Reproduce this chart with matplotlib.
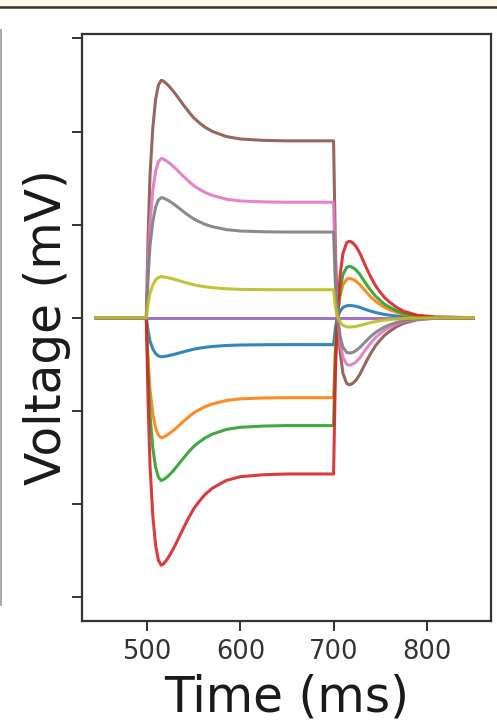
import matplotlib
matplotlib.use("Agg")
import matplotlib.pyplot as plt
from matplotlib.patches import Rectangle
from matplotlib.lines import Line2D

# sample times (ms)
t = [445, 499, 501, 503, 506, 509, 512, 515,
     517, 520, 523, 527, 531, 535, 540, 545, 550, 555, 562, 570, 585, 600, 625, 650,
     700, 702, 704, 707, 710,
     714, 716, 718, 721, 724, 728, 732, 736, 740, 745, 750, 755, 760, 767, 775, 790, 810, 850]

# voltage traces (mV)
v_blue = [0, 0, -1.47, -2.52, -3.36, -3.86, -4.12, -4.2,
          -4.19, -4.14, -4.08, -3.99, -3.89, -3.78, -3.64, -3.51, -3.39, -3.30, -3.19, -3.10, -2.99, -2.94, -2.91, -2.9,
          -2.9, -1.05, -0.05, 0.70, 1.09,
          1.27, 1.30, 1.3, 1.27, 1.22, 1.11, 0.96, 0.82, 0.69, 0.55, 0.44, 0.34, 0.27, 0.18, 0.11, 0.04, 0.01, 0]
v_orange = [0, 0, -4.52, -7.74, -10.32, -11.87, -12.64, -12.9,
            -12.86, -12.71, -12.51, -12.21, -11.87, -11.50, -11.05, -10.62, -10.23, -9.93, -9.57, -9.27, -8.90, -8.73, -8.63, -8.6,
            -8.6, -3.03, 0.0, 2.33, 3.53,
            4.12, 4.19, 4.2, 4.10, 3.93, 3.57, 3.11, 2.65, 2.23, 1.76, 1.41, 1.09, 0.86, 0.59, 0.36, 0.13, 0.03, 0]
v_green = [0, 0, -6.13, -10.5, -14.0, -16.1, -17.15, -17.5,
           -17.44, -17.23, -16.97, -16.56, -16.08, -15.58, -14.96, -14.37, -13.84, -13.43, -12.93, -12.51, -12.01, -11.78, -11.65, -11.6,
           -11.6, -4.12, -0.07, 3.03, 4.61,
           5.39, 5.49, 5.5, 5.36, 5.14, 4.68, 4.07, 3.47, 2.92, 2.31, 1.84, 1.43, 1.13, 0.77, 0.47, 0.17, 0.04, 0]
v_red = [0, 0, -9.31, -15.96, -21.28, -24.47, -26.07, -26.6,
         -26.50, -26.16, -25.72, -25.03, -24.25, -23.42, -22.39, -21.41, -20.52, -19.84, -19.01, -18.32, -17.49, -17.09, -16.88, -16.8,
         -16.8, -5.92, -0.01, 4.56, 6.88,
         8.04, 8.18, 8.2, 8.0, 7.67, 6.97, 6.07, 5.17, 4.35, 3.44, 2.75, 2.13, 1.68, 1.15, 0.70, 0.25, 0.07, 0]
v_purple = [0] * 47
v_brown = [0, 0, 8.93, 15.3, 20.4, 23.46, 24.99, 25.5,
           25.44, 25.21, 24.92, 24.46, 23.94, 23.39, 22.71, 22.06, 21.47, 21.02, 20.46, 20.01, 19.46, 19.20, 19.05, 19.0,
           19.0, 7.11, 0.94, -3.66, -5.96,
           -7.06, -7.19, -7.2, -7.02, -6.73, -6.12, -5.33, -4.54, -3.82, -3.02, -2.41, -1.87, -1.48, -1.01, -0.61, -0.22, -0.06, 0]
v_pink = [0, 0, 5.99, 10.26, 13.68, 15.73, 16.76, 17.1,
          17.05, 16.89, 16.68, 16.35, 15.97, 15.57, 15.08, 14.61, 14.19, 13.86, 13.46, 13.13, 12.73, 12.54, 12.44, 12.4,
          12.4, 4.56, 0.43, -2.68, -4.24,
          -5.0, -5.09, -5.1, -4.97, -4.77, -4.34, -3.77, -3.21, -2.70, -2.14, -1.71, -1.33, -1.05, -0.71, -0.43, -0.15, -0.04, 0]
v_gray = [0, 0, 4.52, 7.74, 10.32, 11.87, 12.64, 12.9,
          12.86, 12.73, 12.57, 12.31, 12.01, 11.70, 11.31, 10.94, 10.61, 10.35, 10.03, 9.77, 9.46, 9.31, 9.23, 9.2,
          9.2, 3.38, 0.31, -2.0, -3.16,
          -3.72, -3.79, -3.8, -3.71, -3.55, -3.23, -2.81, -2.39, -2.01, -1.60, -1.27, -0.99, -0.78, -0.53, -0.32, -0.11, -0.03, 0]
v_olive = [0, 0, 1.54, 2.64, 3.52, 4.05, 4.31, 4.4,
           4.39, 4.34, 4.27, 4.18, 4.06, 3.95, 3.80, 3.66, 3.53, 3.43, 3.32, 3.22, 3.10, 3.04, 3.01, 3.0,
           3.0, 1.15, 0.21, -0.48, -0.82,
           -0.98, -1.0, -1.0, -0.98, -0.94, -0.85, -0.74, -0.63, -0.53, -0.42, -0.34, -0.26, -0.21, -0.14, -0.09, -0.03, -0.01, 0]

traces = [v_blue, v_orange, v_green, v_red, v_purple, v_brown, v_pink, v_gray, v_olive]
yticks = [-30, -20, -10, 0, 10, 20, 30]
xticks = [500, 600, 700, 800]

fig = plt.figure(figsize=(4.97, 7.2), dpi=100)
ax = fig.add_axes([0.165, 0.1375, 0.823, 0.8155])

for v in traces:
    ax.plot(t, v, lw=2.2, alpha=0.9)

ax.set_xlim(430, 869)
ax.set_ylim(-32.6, 30.5)
ax.set_xticks(xticks)
ax.set_yticks(yticks)
ax.set_yticklabels([])
ax.tick_params(length=7, width=1.4, labelsize=18.5, pad=6, colors="#333333")
for s in ax.spines.values():
    s.set_linewidth(1.6)
    s.set_color("#333333")

ax.set_xlabel("Time (ms)", fontsize=35, labelpad=6, color="#1a1a1a")
ax.set_ylabel("Voltage (mV)", fontsize=35, labelpad=-5, color="#1a1a1a")

# screenshot edges
fig.patches.append(Rectangle((0, 1 - 6 / 720), 1, 6 / 720, transform=fig.transFigure,
                             color="#fdf7ec", zorder=0))
fig.lines.append(Line2D([0, 1], [1 - 7 / 720, 1 - 7 / 720], transform=fig.transFigure,
                        color="#333333", lw=1.8))
fig.lines.append(Line2D([1 / 497, 1 / 497], [1 - 30 / 720, 1 - 605 / 720],
                        transform=fig.transFigure, color="#999999", lw=1.2))

fig.savefig("out.png", dpi=100)
